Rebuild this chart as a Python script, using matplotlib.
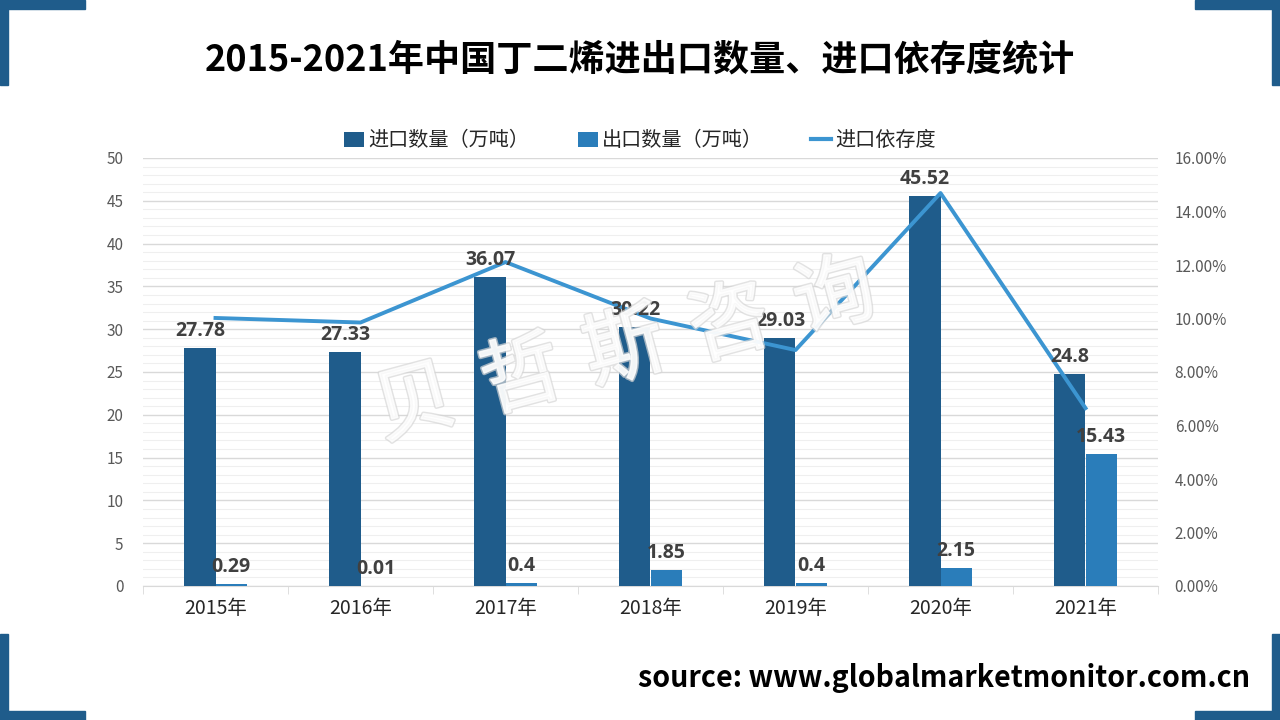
import matplotlib
matplotlib.use("Agg")
import matplotlib.pyplot as plt
import matplotlib.patheffects as pe
from matplotlib.patches import Rectangle, Patch
from matplotlib.lines import Line2D
from matplotlib.ticker import MultipleLocator, FuncFormatter
import numpy as np

plt.rcParams['font.family'] = ['Noto Sans CJK SC', 'DejaVu Sans']

years = ["2015年", "2016年", "2017年", "2018年", "2019年", "2020年", "2021年"]
imports = [27.78, 27.33, 36.07, 30.22, 29.03, 45.52, 24.8]
exports = [0.29, 0.01, 0.4, 1.85, 0.4, 2.15, 15.43]
dependency = [10.02, 9.85, 12.11, 10.0, 8.82, 14.69, 6.65]  # percent

title = "2015-2021年中国丁二烯进出口数量、进口依存度统计"
source = "source: www.globalmarketmonitor.com.cn"
watermark = "贝哲斯咨询"

c_imp = "#1F5C8B"
c_exp = "#2A7DBA"
c_line = "#3C95D1"
c_lab = "#404040"

fig = plt.figure(figsize=(12.8, 7.2), dpi=100)
fig.patch.set_facecolor("white")

ax = fig.add_axes([143/1280, 1-586/720, (1158-143)/1280, (586-158)/720])
ax2 = ax.twinx()

x = np.arange(len(years))
w = 0.214
ax.bar(x - w/2, imports, w, color=c_imp, zorder=3)
ax.bar(x + w/2, exports, w, color=c_exp, zorder=3)

ax.set_ylim(0, 50)
ax.set_xlim(-0.5, len(years) - 0.5)
ax.yaxis.set_major_locator(MultipleLocator(5))
ax.yaxis.set_minor_locator(MultipleLocator(1))
ax.grid(axis='y', which='major', color='#d9d9d9', linewidth=1.0, zorder=0)
ax.grid(axis='y', which='minor', color='#efefef', linewidth=0.8, zorder=0)
ax.set_axisbelow(True)
ax.tick_params(axis='y', which='both', length=0, labelsize=11, labelcolor='#595959', pad=14)
ax.set_xticks(x)
ax.set_xticklabels(years, fontsize=14, color='#262626')
ax.set_xticks(np.arange(-0.5, len(years)), minor=True)
ax.tick_params(axis='x', which='major', length=0, pad=9)
ax.tick_params(axis='x', which='minor', length=6, color='#d9d9d9')
for s in ['top', 'left', 'right']:
    ax.spines[s].set_visible(False)
ax.spines['bottom'].set_color('#d9d9d9')

ax2.plot(x, dependency, color=c_line, linewidth=2.8, zorder=4)
ax2.set_ylim(0, 16)
ax2.yaxis.set_major_locator(MultipleLocator(2))
ax2.yaxis.set_major_formatter(FuncFormatter(lambda v, p: f"{v:.2f}%"))
ax2.tick_params(axis='y', length=0, labelsize=11, labelcolor='#595959', pad=12)
for s in ['top', 'left', 'right', 'bottom']:
    ax2.spines[s].set_visible(False)

# data labels (drawn on ax2 so they sit above the line)
for xi, v in zip(x, imports):
    ax2.annotate(f"{v:g}", xy=(xi - w/2, v * 16 / 50), xytext=(0, 5),
                 textcoords='offset points', ha='center', va='bottom',
                 fontsize=14, fontweight='bold', color=c_lab, zorder=6,
                 family=['Open Sans', 'DejaVu Sans'])
for xi, v in zip(x, exports):
    ax2.annotate(f"{v:g}", xy=(xi + w/2, v * 16 / 50), xytext=(0, 5),
                 textcoords='offset points', ha='center', va='bottom',
                 fontsize=14, fontweight='bold', color=c_lab, zorder=6,
                 family=['Open Sans', 'DejaVu Sans'])

# legend
handles = [Patch(facecolor=c_imp), Patch(facecolor=c_exp),
           Line2D([0], [0], color=c_line, linewidth=3)]
labels = ["进口数量（万吨）", "出口数量（万吨）", "进口依存度"]
fig.legend(handles, labels, loc='center', bbox_to_anchor=(0.5, 1-141/720),
           ncol=3, frameon=False, fontsize=14.5, handlelength=1.0,
           handleheight=0.8, handletextpad=0.2, columnspacing=2.4,
           labelcolor='#262626')

# title and source
fig.text(0.5, 1-60/720, title, ha='center', va='center', fontsize=26,
         fontweight='bold', color='black')
fig.text(1250/1280, 1-678/720, source, ha='right', va='center', fontsize=20.6,
         fontweight='bold', color='black')

# watermark (hollow characters)
wm_pos = [(415, 405), (522, 378), (625, 350), (730, 325), (835, 298)]
for ch, (px, py) in zip(watermark, wm_pos):
    t = fig.text(px/1280, 1-py/720, ch, ha='center', va='center', fontsize=58,
                 rotation=15, color=(1, 1, 1, 0), zorder=10)
    t.set_path_effects([pe.Stroke(linewidth=3.0, foreground='#d6d6d6', alpha=0.7),
                        pe.Stroke(linewidth=1.0, foreground='#ffffff', alpha=0.8)])

# corner decorations
dc = c_imp
for (rx, ry, rw, rh) in [(0, 0, 85, 9), (0, 0, 8, 85),
                         (1195, 0, 85, 9), (1272, 0, 8, 85),
                         (0, 711, 85, 9), (0, 634, 8, 86),
                         (1195, 711, 85, 9), (1272, 634, 8, 86)]:
    fig.patches.append(Rectangle((rx/1280, 1-(ry+rh)/720), rw/1280, rh/720,
                                 transform=fig.transFigure, color=dc, zorder=20))

fig.savefig("out.png", dpi=100, facecolor='white')
